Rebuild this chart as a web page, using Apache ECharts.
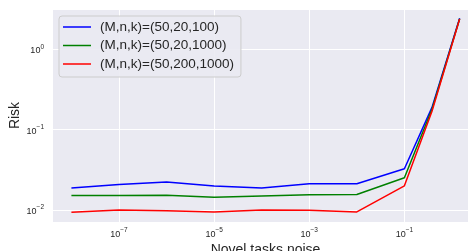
<!DOCTYPE html>
<html>
<head>
<meta charset="utf-8">
<script src="https://cdn.jsdelivr.net/npm/echarts@6/dist/echarts.min.js"></script>
<style>
  html, body { margin: 0; padding: 0; background: #fff; }
  #chart { width: 468px; height: 251px; }
</style>
</head>
<body>
<div id="chart"></div>
<script>
  // noise levels (x) and risk per setting (y)
  var noise = [1e-8, 1e-7, 1e-6, 1e-5, 1e-4, 1e-3, 1e-2, 1e-1, 0.38, 1.45]
  var riskA = [0.0188, 0.0208, 0.0223, 0.0199, 0.0188, 0.0212, 0.0212, 0.0326, 0.19, 2.45]
  var riskB = [0.0152, 0.0151, 0.0153, 0.0144, 0.0149, 0.0155, 0.0156, 0.0252, 0.18, 2.42]
  var riskC = [0.00934, 0.0100, 0.0098, 0.00945, 0.0100, 0.0099, 0.00945, 0.0200, 0.17, 2.40]
  var names = ['(M,n,k)=(50,20,100)', '(M,n,k)=(50,20,1000)', '(M,n,k)=(50,200,1000)']
  var colors = ['#0000ff', '#008000', '#ff0000']

  // both axes are drawn in log10 space; x is shifted by one decade so that
  // the nice ticks (every 2 decades) land on the odd exponents like the original
  var X_SHIFT = 1
  var FONT = '"Liberation Sans", Arial, sans-serif'
  var TEXT = '#262626'

  function toPoints (ys) {
    var pts = []
    for (var i = 0; i < noise.length; i++) {
      pts.push([Math.log10(noise[i]) + X_SHIFT, Math.log10(ys[i])])
    }
    return pts
  }

  function powLabel (exp) {
    var s = exp < 0 ? '\u2212' + (-exp) : '' + exp
    return '{b|10}{s|' + s + '}'
  }

  var rich = {
    b: { fontSize: 9, fontFamily: FONT, color: TEXT, lineHeight: 12, verticalAlign: 'bottom' },
    s: { fontSize: 6.5, fontFamily: FONT, color: TEXT, lineHeight: 12, verticalAlign: 'top' }
  }

  var chart = echarts.init(document.getElementById('chart'))
  var series = []
  var all = [riskA, riskB, riskC]
  for (var j = 0; j < all.length; j++) {
    series.push({
      name: names[j],
      type: 'line',
      data: toPoints(all[j]),
      showSymbol: false,
      symbol: 'none',
      lineStyle: { color: colors[j], width: 1.5 },
      itemStyle: { color: colors[j] },
      animation: false
    })
  }

  var option = {
    animation: false,
    grid: {
      left: 52,
      top: 9,
      width: 427,
      height: 213,
      outerBoundsMode: 'none',
      containLabel: false,
      show: true,
      backgroundColor: '#EAEAF2',
      borderWidth: 0
    },
    legend: {
      data: names,
      orient: 'vertical',
      left: 59,
      top: 16,
      icon: 'rect',
      itemWidth: 28,
      itemHeight: 1.5,
      itemGap: 4.5,
      padding: [4, 7, 6, 4],
      backgroundColor: 'rgba(234,234,242,0.9)',
      borderColor: '#cccccc',
      borderWidth: 1,
      borderRadius: 3,
      textStyle: { fontSize: 13.5, fontFamily: FONT, color: TEXT, lineHeight: 14, padding: [0, 0, 0, 4] }
    },
    xAxis: {
      type: 'value',
      min: -8.408 + X_SHIFT,
      max: 0.568 + X_SHIFT,
      splitNumber: 5,
      name: 'Novel tasks noise',
      nameLocation: 'middle',
      nameGap: 21,
      nameMoveOverlap: false,
      nameTextStyle: { fontSize: 14, fontFamily: FONT, color: TEXT, verticalAlign: 'top' },
      axisLine: { show: false },
      axisTick: { show: false },
      splitLine: { show: true, lineStyle: { color: '#ffffff', width: 1 } },
      axisLabel: {
        margin: 5,
        showMinLabel: false,
        showMaxLabel: false,
        formatter: function (v) {
          if (Math.abs(v - Math.round(v)) > 1e-6) return ''
          return powLabel(Math.round(v) - X_SHIFT)
        },
        rich: rich
      }
    },
    yAxis: {
      type: 'value',
      min: -2.15,
      max: 0.505,
      splitNumber: 2,
      name: 'Risk',
      nameLocation: 'middle',
      nameGap: 30,
      nameMoveOverlap: false,
      nameTextStyle: { fontSize: 14, fontFamily: FONT, color: TEXT },
      axisLine: { show: false },
      axisTick: { show: false },
      splitLine: { show: true, lineStyle: { color: '#ffffff', width: 1 } },
      axisLabel: {
        margin: 8,
        showMinLabel: false,
        showMaxLabel: false,
        formatter: function (v) {
          if (Math.abs(v - Math.round(v)) > 1e-6) return ''
          return powLabel(Math.round(v))
        },
        rich: rich
      }
    },
    series: series
  }
  chart.setOption(option)
</script>
</body>
</html>
